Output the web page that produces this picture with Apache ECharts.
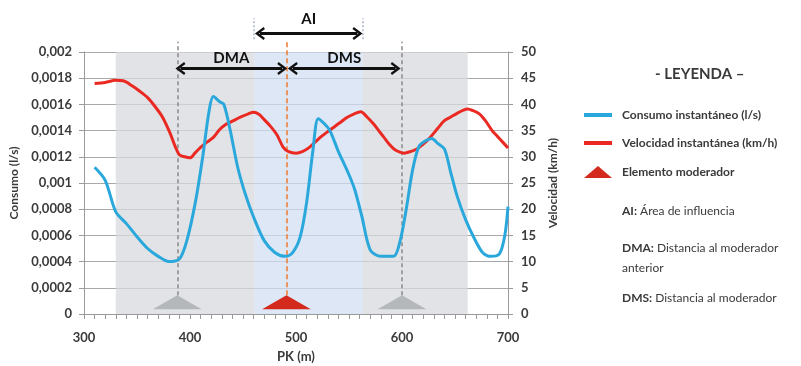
<!DOCTYPE html>
<html><head><meta charset="utf-8">
<script src="https://cdn.jsdelivr.net/npm/echarts@6/dist/echarts.min.js"></script>
<style>html,body{margin:0;padding:0;background:#fff}#c{width:801px;height:366px}</style>
</head><body><div id="c"></div>
<script>
// ---- data ----
const pkConsumo = [310,320,330,340,350,360,370,380,390,397,405,412,418,422,428,432,438,445,452,460,470,480,490,497,504,510,516,521,527,532,540,548,555,562,570,580,592,598,604,610,616,622,628,634,640,646,652,660,668,676,684,692,697,700];
const consumo = [0.00112,0.00102,0.00078,0.00069,0.00059,0.00050,0.00044,0.00040,0.00042,0.00056,0.00085,0.00120,0.00155,0.00166,0.00162,0.00160,0.00140,0.00112,0.00092,0.00074,0.00056,0.00047,0.00044,0.00047,0.00059,0.00085,0.00125,0.00149,0.00145,0.00140,0.00124,0.00110,0.00096,0.00075,0.00049,0.00044,0.00044,0.00055,0.00080,0.00110,0.00128,0.00132,0.00134,0.00130,0.00126,0.00108,0.00090,0.00072,0.00058,0.00047,0.00044,0.00046,0.00060,0.00082];
const pkVelocidad = [310,320,330,337,345,352,360,367,374,381,386,390,395,400,405,410,416,422,428,434,440,448,455,460,465,470,476,482,488,493,500,506,512,518,524,530,536,542,548,555,561,567,573,578,583,588,593,598,602,608,614,620,627,634,640,646,652,658,662,667,673,679,685,690,695,700];
const velocidad = [44.0,44.2,44.6,44.5,43.6,42.6,41.3,39.6,37.6,34.6,32.0,30.4,30.0,29.8,30.8,31.8,32.8,33.7,35.2,36.2,36.8,37.6,38.2,38.5,38.1,37.1,35.8,34.2,31.8,31.0,30.7,31.0,31.7,32.8,33.9,34.8,35.7,36.6,37.5,38.2,38.6,37.6,36.3,35.0,33.7,32.4,31.4,30.9,30.7,31.0,31.5,32.4,33.8,35.5,36.9,37.6,38.3,38.9,39.1,38.8,38.2,36.8,35.0,33.9,32.8,31.7];
const moderadorPK = 491;              // elemento moderador
const moderadoresVecinos = [388, 600]; // anterior / siguiente
const triangleHalfWidth = 23;
const triangleBase = 0.9;
const triangleTop = 3.6;
const bandaGris1 = [330, 461];
const bandaAI = [461, 563];
const bandaGris2 = [563, 662];
const leftTickLabels = ['0','0,0002','0,0004','0,0006','0,0008','0,001','0,0012','0,0014','0,0016','0,0018','0,002'];
const rightTickLabels = ['0','5','10','15','20','25','30','35','40','45','50'];
const xTickLabels = ['300','400','500','600','700'];

const FONT = 'Lato';
const TXT = '#3a3a3a';

function zip(a,b){return a.map((v,i)=>[v,b[i]]);}
function tri(c){return [[c-triangleHalfWidth,triangleBase],[c,triangleTop],[c+triangleHalfWidth,triangleBase]];}

const chevron = 'path://M0,9 L6,0 L12,9 L10.2,10.4 L6,4.2 L1.8,10.4 Z';

const chart = echarts.init(document.getElementById('c'), null, {renderer:'canvas'});
chart.setOption({
  animation:false,
  backgroundColor:'#fff',
  textStyle:{fontFamily:FONT},
  grid:[
    {left:84, right:293, top:52, bottom:52, containLabel:false, outerBoundsMode:'none'},
    {left:84, right:293, top:0, bottom:52, containLabel:false, outerBoundsMode:'none'}
  ],
  xAxis:[
    {type:'value', gridIndex:0, min:300, max:700, interval:100,
     name:'PK (m)', nameLocation:'middle', nameGap:36,
     nameTextStyle:{fontFamily:FONT, fontWeight:'bold', fontSize:13, color:TXT},
     axisLine:{show:true, lineStyle:{color:'#9a9a9a', width:1}},
     axisTick:{show:true, length:5, lineStyle:{color:'#9a9a9a'}},
     minorTick:{show:true, splitNumber:10, length:5, lineStyle:{color:'#9a9a9a'}},
     splitLine:{show:false},
     axisLabel:{margin:17, fontFamily:FONT, fontWeight:'bold', fontSize:13, color:TXT,
       formatter:(v)=>xTickLabels[Math.round((v-300)/100)]}},
    {type:'value', gridIndex:1, min:300, max:700, show:false}
  ],
  yAxis:[
    {type:'value', gridIndex:0, min:0, max:0.002, interval:0.0002, position:'left',
     name:'Consumo (l/s)', nameLocation:'middle', nameGap:59, nameRotate:90,
     nameTextStyle:{fontFamily:FONT, fontWeight:'bold', fontSize:12, color:TXT},
     axisLine:{show:true, lineStyle:{color:'#9a9a9a'}},
     axisTick:{show:true, length:5, lineStyle:{color:'#9a9a9a'}},
     splitLine:{show:true, lineStyle:{color:'#a8a8a8', width:1}},
     axisLabel:{margin:12, fontFamily:FONT, fontWeight:'bold', fontSize:13, color:TXT,
       formatter:(v)=>leftTickLabels[Math.round(v/0.0002)]}},
    {type:'value', gridIndex:0, min:0, max:50, interval:5, position:'right',
     name:'Velocidad (km/h)', nameLocation:'middle', nameGap:35, nameRotate:90,
     nameTextStyle:{fontFamily:FONT, fontWeight:'bold', fontSize:12, color:TXT},
     axisLine:{show:true, lineStyle:{color:'#9a9a9a'}},
     axisTick:{show:true, length:5, lineStyle:{color:'#9a9a9a'}},
     splitLine:{show:false},
     axisLabel:{margin:13, fontFamily:FONT, fontWeight:'bold', fontSize:13, color:TXT,
       formatter:(v)=>rightTickLabels[Math.round(v/5)]}},
    {type:'value', gridIndex:1, min:0, max:60, show:false}
  ],
  legend:[
    {orient:'vertical', left:584, top:108, padding:0, itemWidth:28, itemHeight:4, itemGap:14,
     icon:'rect', selectedMode:false,
     textStyle:{fontFamily:FONT, fontWeight:'bold', fontSize:12, color:TXT, lineHeight:14, padding:[0,0,0,5]},
     data:['Consumo instantáneo (l/s)','Velocidad instantánea (km/h)']},
    {orient:'vertical', left:584, top:165, padding:0, itemWidth:28, itemHeight:12,
     icon:'triangle', selectedMode:false,
     textStyle:{fontFamily:FONT, fontWeight:'bold', fontSize:12, color:TXT, lineHeight:14, padding:[0,0,0,5]},
     data:['Elemento moderador']}
  ],
  graphic:[
    {type:'text', left:655, top:67, style:{text:'- LEYENDA –', font:'bold 15px '+FONT, fill:TXT}},
    {type:'text', left:622, top:205, style:{text:'{b|AI:} Área de influencia',
      rich:{b:{fontWeight:'bold', fontFamily:FONT, fontSize:12, fill:TXT}}, font:'12px '+FONT, fill:TXT}},
    {type:'text', left:622, top:238, style:{text:'{b|DMA:} Distancia al moderador\nanterior', lineHeight:20,
      rich:{b:{fontWeight:'bold', fontFamily:FONT, fontSize:12, fill:TXT, lineHeight:20}}, font:'12px '+FONT, fill:TXT}},
    {type:'text', left:622, top:292, style:{text:'{b|DMS:} Distancia al moderador',
      rich:{b:{fontWeight:'bold', fontFamily:FONT, fontSize:12, fill:TXT}}, font:'12px '+FONT, fill:TXT}}
  ],
  series:[
    {name:'bandas', type:'line', xAxisIndex:0, yAxisIndex:0, data:[], silent:true,
     markArea:{silent:true, data:[
       [{xAxis:bandaGris1[0], itemStyle:{color:'rgba(215,217,221,0.75)'}},{xAxis:bandaGris1[1]}],
       [{xAxis:bandaAI[0], itemStyle:{color:'rgba(208,222,242,0.72)'}},{xAxis:bandaAI[1]}],
       [{xAxis:bandaGris2[0], itemStyle:{color:'rgba(215,217,221,0.75)'}},{xAxis:bandaGris2[1]}]
     ]}},
    {name:'lineas', type:'line', xAxisIndex:1, yAxisIndex:2, data:[], silent:true, z:3,
     markLine:{silent:true, symbol:'none', label:{show:false},
       data:[
         [{coord:[moderadoresVecinos[0],3.6], lineStyle:{color:'#8a8a8a', type:[4,3], width:1.5}},{coord:[moderadoresVecinos[0],52]}],
         [{coord:[moderadoresVecinos[1],3.6], lineStyle:{color:'#8a8a8a', type:[4,3], width:1.5}},{coord:[moderadoresVecinos[1],52]}],
         [{coord:[moderadorPK,3.6], lineStyle:{color:'#f07a2a', type:[5,3], width:1.5}},{coord:[moderadorPK,52.5]}],
         [{coord:[460.5,52.5], lineStyle:{color:'#a9b4c6', type:[2,2], width:1.5}},{coord:[460.5,56.5]}],
         [{coord:[563,52.5], lineStyle:{color:'#a9b4c6', type:[2,2], width:1.5}},{coord:[563,56.5]}]
       ]}},
    {name:'flechas', type:'line', xAxisIndex:1, yAxisIndex:2, data:[], silent:true, z:4,
     markLine:{silent:true, symbol:[chevron, chevron], symbolSize:[13,10],
       lineStyle:{color:'#111', width:3, type:'solid'},
       label:{show:true, position:'insideMiddleTop', distance:3, fontFamily:FONT, fontWeight:'bold', fontSize:15, color:'#111'},
       data:[
         [{coord:[391,46.9], label:{formatter:'DMA'}},{coord:[487,46.9]}],
         [{coord:[497,46.9], label:{formatter:'DMS'}},{coord:[594,46.9]}],
         [{coord:[466,53.6], label:{formatter:'AI', distance:7}},{coord:[558,53.6]}]
       ]}},
    {name:'Moderadores vecinos', type:'line', xAxisIndex:0, yAxisIndex:1, silent:true, z:2,
     data:[...tri(moderadoresVecinos[0]), [null,null], ...tri(moderadoresVecinos[1])],
     connectNulls:false, showSymbol:false, symbol:'none',
     lineStyle:{width:0, color:'rgba(170,173,176,0.8)'},
     areaStyle:{color:'rgba(170,173,176,0.8)', opacity:1, origin:triangleBase}},
    {name:'Elemento moderador', type:'line', xAxisIndex:0, yAxisIndex:1, silent:true, z:2,
     data:tri(moderadorPK), showSymbol:false, symbol:'none',
     itemStyle:{color:'#d42a1e'},
     lineStyle:{width:0, color:'#d42a1e'},
     areaStyle:{color:'#d42a1e', opacity:1, origin:triangleBase}},
    {name:'Velocidad instantánea (km/h)', type:'line', xAxisIndex:0, yAxisIndex:1, z:5,
     data:zip(pkVelocidad, velocidad), showSymbol:false, symbol:'none', smooth:0.3,
     itemStyle:{color:'#ea2a22'}, lineStyle:{color:'#ea2a22', width:3}},
    {name:'Consumo instantáneo (l/s)', type:'line', xAxisIndex:0, yAxisIndex:0, z:6,
     data:zip(pkConsumo, consumo), showSymbol:false, symbol:'none', smooth:0.3,
     itemStyle:{color:'#2aa8dc'}, lineStyle:{color:'#2aa8dc', width:3}}
  ]
});
</script></body></html>
